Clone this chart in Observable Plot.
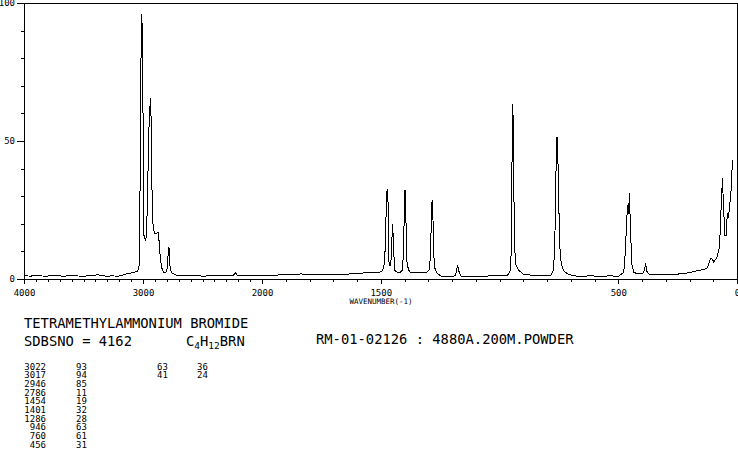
<!DOCTYPE html>
<html>
<head>
<meta charset="utf-8">
<script src="https://cdn.jsdelivr.net/npm/d3@7"></script>
<script src="https://cdn.jsdelivr.net/npm/@observablehq/plot@0.6"></script>
<style>
  html, body { margin: 0; padding: 0; background: #fff; }
  #wrap { position: relative; width: 738px; height: 457px; overflow: hidden; font-family: "DejaVu Sans Mono", monospace; color: #000; }
  #chart svg { display: block; }
  #chart svg path, #chart svg line, #chart svg rect { shape-rendering: crispEdges; }
  #chart g[aria-label="x-axis label"] text { font-size: 7.5px; }
  .t { position: absolute; white-space: pre; line-height: 1; }
  .big { font-size: 13.8px; }
  .small { font-size: 9px; line-height: 8.7px; }
  sub { font-size: 9.5px; vertical-align: -3px; line-height: 0; }
</style>
</head>
<body>
<div id="wrap">
  <div id="chart"></div>
</div>
<script>
// ---- data ----
const ramanSpectrum = [
  [4000,1.4],[3950,1.2],[3908,1.5],[3866,1.3],[3815,1.2],[3765,1.4],[3714,1.3],[3664,1.2],
  [3613,1.4],[3563,1.3],[3513,1.2],[3462,1.3],[3412,1.5],[3387,1.8],[3361,1.4],[3311,1.2],
  [3261,1.3],[3210,1.2],[3176,1.6],[3134,2.1],[3092,2.5],[3050,3.0],[3038,4.5],[3031,11.7],
  [3025,80],[3019,80.5],[3014,96],[3008,84],[3004,60],[3002,17.8],[2996,16],[2983,14.1],
  [2975,16],[2967,28.6],[2956,52.8],[2947,62],[2941,65.5],[2937,60],[2933,45.6],[2927,28.6],
  [2919,18.9],[2905,16.6],[2889,16.8],[2874,17.2],[2868,13],[2860,8.7],[2849,4.5],[2832,2.6],
  [2815,2.4],[2803,3.5],[2793,9],[2788,11.7],[2783,11],[2778,5],[2769,3.0],[2756,2.2],
  [2723,1.6],[2689,1.4],[2639,1.3],[2588,1.5],[2538,1.3],[2487,1.2],[2437,1.4],[2387,1.3],
  [2336,1.5],[2286,1.4],[2244,1.6],[2227,2.4],[2210,1.5],[2168,1.3],[2118,1.4],[2067,1.3],
  [2017,1.4],[1983,1.4],[1958,1.5],[1924,1.7],[1882,1.8],[1840,2.0],[1798,1.9],[1756,1.8],
  [1714,1.8],[1672,1.9],[1629,2.0],[1596,2.1],[1571,2.4],[1554,2.6],[1528,2.6],[1507,2.7],
  [1495,3.2],[1486,6],[1482,15],[1478,30],[1475,32.6],[1472,31],[1469,12],[1467,5.5],
  [1463,5.1],[1459,7],[1455,15],[1452,19.9],[1449,14],[1444,3.3],[1433,2.6],[1419,2.6],
  [1411,3.5],[1406,10],[1403,25],[1400,32.6],[1397,28],[1394,10],[1391,5.7],[1385,3.5],
  [1377,2.6],[1343,2.5],[1309,2.6],[1299,3.5],[1293,8],[1289,22],[1286,28.6],[1283,26],
  [1280,12],[1276,4.5],[1267,2.5],[1251,1.3],[1225,1.1],[1200,1.1],[1187,1.5],[1181,4],
  [1178,5.1],[1173,3],[1166,1.3],[1141,1.0],[1116,1.1],[1091,1.0],[1065,1.1],[1040,1.4],
  [1015,1.3],[989,1.4],[968,1.6],[956,3.3],[952,11.7],[949,47.3],[946,63.6],[943,49.7],
  [940,16.5],[935,5.7],[921,3.3],[901,1.9],[872,1.6],[829,1.5],[787,1.3],[776,3.3],
  [770,10],[766,28.6],[762,51.6],[758,51.6],[754,34.7],[749,12.9],[742,5.7],[733,3.3],
  [717,2.1],[691,1.3],[661,1.2],[619,1.3],[577,1.2],[535,1.3],[501,1.2],[479,2.6],
  [472,10.5],[466,22.6],[462,26.8],[459,23.8],[455,31],[451,19],[445,5.7],[437,2.6],
  [421,2.1],[400,2.1],[392,3.2],[387,5.7],[382,3],[375,2.0],[345,1.8],[303,1.8],
  [261,1.9],[219,2.2],[198,2.6],[168,3.2],[143,3.6],[126,4.2],[121,5.7],[114,7.5],
  [107,7.5],[100,6.3],[86,8.1],[76,11.7],[72,19],[68,28.6],[63,36.5],[60,28.6],
  [56,21.4],[53,15.9],[48,15.9],[43,23.8],[39,22.6],[35,25],[31,28.6],[26,33.4],
  [22,41.9],[20,43.1]
];
const xTickLabels = [4000, 3000, 2000, 1500, 500, 0];
const yTickLabels = [0, 50, 100];
const compoundName = "TETRAMETHYLAMMONIUM BROMIDE";
const sdbsLine = "SDBSNO = 4162";
const measureLine = "RM-01-02126 : 4880A.200M.POWDER";
const peakWavenumbers = [3022, 3017, 2946, 2786, 1454, 1401, 1286, 946, 760, 456];
const peakIntensities = [93, 94, 85, 11, 19, 32, 28, 63, 61, 31];
const extraWavenumbers = [63, 41];
const extraIntensities = [36, 24];

// ---- chart ----
const data = ramanSpectrum.map(([wn, v]) => ({wn, v}));
const xMinor = d3.range(0, 4001, 100).filter(d => !xTickLabels.includes(d));
const yMinor = d3.range(0, 101, 10).filter(d => !yTickLabels.includes(d));
const font = "DejaVu Sans Mono";

const chart = Plot.plot({
  width: 738,
  height: 305,
  marginLeft: 24,
  marginRight: 1,
  marginTop: 3,
  marginBottom: 26,
  style: {fontFamily: font, background: "#fff", color: "#000", overflow: "hidden"},
  x: {type: "linear", domain: [4000, 2000, 0], range: [24, 262, 737]},
  y: {domain: [0, 100]},
  marks: [
    Plot.frame({stroke: "#000"}),
    Plot.line(data, {x: "wn", y: "v", stroke: "#000", strokeWidth: 1}),
    Plot.axisX({ticks: xMinor, tickSize: 2.5, text: null, label: null, stroke: "#000"}),
    Plot.axisX({ticks: xTickLabels, tickSize: 5, tickPadding: 5, tickFormat: d => String(d),
      fontSize: 9, label: "WAVENUMBER(-1)", labelAnchor: "center", labelArrow: "none", labelOffset: 24, stroke: "#000"}),
    Plot.axisY({ticks: yMinor, tickSize: 3, text: null, label: null, stroke: "#000"}),
    Plot.axisY({ticks: yTickLabels, tickSize: 7, tickPadding: 2.5, tickFormat: d => String(d),
      fontSize: 9, label: null, stroke: "#000"})
  ]
});
document.getElementById("chart").appendChild(chart);

// ---- text block below ----
const wrap = document.getElementById("wrap");
function addText(txt, cls, left, top, extra) {
  const d = document.createElement("div");
  d.className = "t " + cls;
  d.style.left = left + "px";
  d.style.top = top + "px";
  if (extra) Object.assign(d.style, extra);
  d.textContent = txt;
  wrap.appendChild(d);
  return d;
}
addText(compoundName, "big", 24, 317.3);
addText(sdbsLine, "big", 24, 335.3);
const f = addText("", "big", 186, 335.3);
f.innerHTML = "C<sub>4</sub>H<sub>12</sub>BRN";
addText(measureLine, "big", 316, 333.3);

addText(peakWavenumbers.join("\n"), "small", 24, 362.5, {width: "22px", textAlign: "right"});
addText(peakIntensities.join("\n"), "small", 76, 362.5);
addText(extraWavenumbers.join("\n"), "small", 157, 362.5);
addText(extraIntensities.join("\n"), "small", 197, 362.5);
</script>
</body>
</html>
